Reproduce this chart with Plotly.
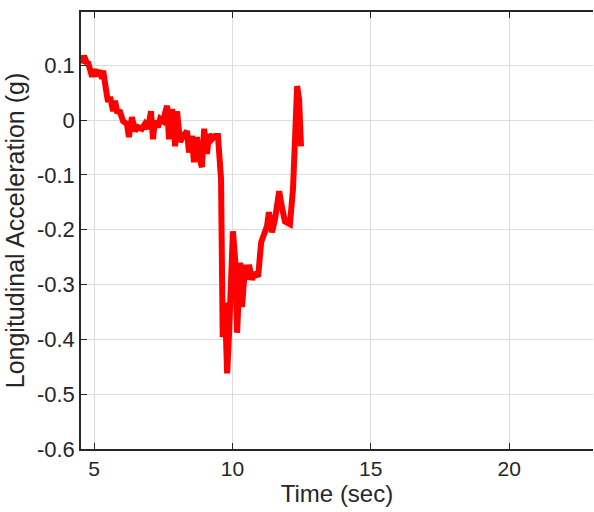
import plotly.graph_objects as go

time_sec = [4.55, 4.64, 4.75, 4.78, 4.93, 5.00, 5.11, 5.22, 5.29, 5.33, 5.47, 5.51, 5.58, 5.69,
            5.76, 5.83, 5.94, 6.05, 6.19, 6.26, 6.37, 6.48, 6.59, 6.73, 6.84, 6.95, 7.06, 7.13,
            7.20, 7.31, 7.39, 7.49, 7.64, 7.71, 7.82, 7.93, 8.00, 8.11, 8.22, 8.36, 8.43, 8.54,
            8.61, 8.72, 8.79, 8.90, 8.98, 9.08, 9.16, 9.26, 9.37, 9.48, 9.59, 9.63, 9.65, 9.73,
            9.81, 9.88, 9.95, 10.02, 10.10, 10.17, 10.28, 10.35, 10.46, 10.53, 10.60, 10.71,
            10.82, 10.93, 11.04, 11.14, 11.25, 11.32, 11.43, 11.54, 11.65, 11.69, 11.79, 11.90,
            12.08, 12.19, 12.34, 12.41, 12.48]
long_accel_g = [0.103, 0.117, 0.103, 0.106, 0.079, 0.092, 0.081, 0.090, 0.075, 0.090, 0.044,
                0.033, 0.042, 0.016, 0.035, 0.016, 0.015, -0.002, -0.007, -0.031, 0.005, -0.020,
                -0.013, -0.016, -0.007, -0.016, 0.016, -0.035, -0.002, -0.013, 0.002, -0.002,
                0.026, -0.035, 0.020, -0.048, 0.016, -0.040, -0.029, -0.020, -0.059, -0.029,
                -0.077, -0.031, -0.066, -0.086, -0.016, -0.062, -0.026, -0.035, -0.029, -0.029,
                -0.108, -0.291, -0.396, -0.333, -0.462, -0.388, -0.278, -0.203, -0.255, -0.388,
                -0.260, -0.341, -0.264, -0.291, -0.264, -0.291, -0.278, -0.286, -0.223, -0.205,
                -0.194, -0.168, -0.205, -0.181, -0.150, -0.130, -0.159, -0.185, -0.190, -0.126,
                0.062, 0.038, -0.048]

x_ticks = [5, 10, 15, 20]
y_ticks = [-0.6, -0.5, -0.4, -0.3, -0.2, -0.1, 0, 0.1]
y_tick_labels = ["-0.6", "-0.5", "-0.4", "-0.3", "-0.2", "-0.1", "0", "0.1"]

axis_color = "#262626"
grid_color = "#dcdcdc"
font_family = "Liberation Sans, Arial, sans-serif"

fig = go.Figure()
fig.add_trace(go.Scatter(x=time_sec, y=long_accel_g, mode="lines",
                         line=dict(color="#ff0000", width=6), showlegend=False))

fig.update_layout(
    width=594, height=512,
    margin=dict(l=81, r=1, t=12, b=63),
    paper_bgcolor="white", plot_bgcolor="white",
    font=dict(family=font_family, color=axis_color, size=21),
    xaxis=dict(range=[4.53, 23.03], tickvals=x_ticks, ticks="inside", ticklen=6,
               tickcolor=axis_color, showline=True, linecolor=axis_color, linewidth=1.5,
               mirror="ticks", showgrid=True, gridcolor=grid_color, gridwidth=1.3,
               zeroline=False, automargin=False,
               title=dict(text="Time (sec)", font=dict(size=24), standoff=4),
               tickfont=dict(size=21)),
    yaxis=dict(range=[-0.6, 0.197], tickvals=y_ticks, ticktext=y_tick_labels, ticks="inside",
               ticklen=6, tickcolor=axis_color, showline=True, linecolor=axis_color,
               linewidth=1.5, mirror=False, showgrid=True, gridcolor=grid_color, gridwidth=1.3,
               zeroline=False, automargin=False,
               title=dict(text="Longitudinal Acceleration (g)", font=dict(size=25), standoff=5),
               tickfont=dict(size=22)),
)

fig.write_html("out.html", config={"displayModeBar": False},
               post_script="document.body.style.margin='0';document.body.style.overflow='hidden';")
